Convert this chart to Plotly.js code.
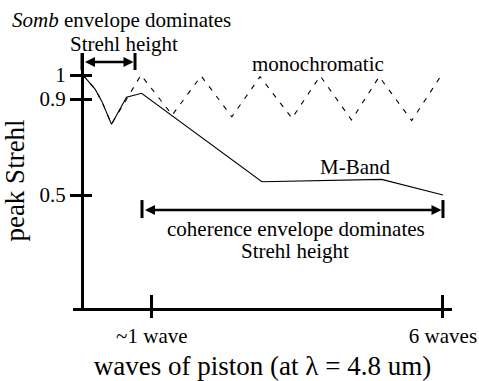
<!DOCTYPE html>
<html>
<head>
<meta charset="utf-8">
<script src="https://cdn.plot.ly/plotly-3.0.1.min.js"></script>
<style>
  html, body { margin: 0; padding: 0; background: #fff; }
  #chart { width: 479px; height: 381px; }
</style>
</head>
<body>
<div id="chart"></div>
<script>
// Peak Strehl versus piston error (in waves at 4.8 um)
const mBandWaves   = [0, 0.05, 0.22, 0.33, 0.49, 0.74, 0.99, 2.99, 4.98, 6.0];
const mBandStrehl  = [1.0, 0.99, 0.94, 0.89, 0.795, 0.907, 0.924, 0.555, 0.565, 0.50];

const monoWaves    = [0, 0.05, 0.22, 0.33, 0.49, 0.98, 1.5, 1.98, 2.49, 2.96, 3.49, 3.96, 4.48, 4.94, 5.48, 5.95];
const monoStrehl   = [1.0, 0.99, 0.94, 0.89, 0.795, 1.0, 0.833, 0.996, 0.826, 0.993, 0.82, 0.996, 0.8125, 0.993, 0.81, 0.99];

const waveTickVals   = [1.16, 6];
const waveTickText   = ['~1 wave', '6 waves'];
const strehlTickVals = [0.5, 0.9, 1];
const strehlTickText = ['0.5', '0.9', '1'];

const FONT = 'Liberation Serif, Times New Roman, serif';
const X_RANGE = [-0.15, 6.15];
const Y_RANGE = [0.0292, 1.0917];
const Y_AXIS_POS = 9 / 379;   // vertical axis sits at zero piston

const traces = [
  {
    x: mBandWaves, y: mBandStrehl, type: 'scatter', mode: 'lines',
    line: { color: '#000', width: 1.1 }, xaxis: 'x', yaxis: 'y',
    hoverinfo: 'skip', showlegend: false
  },
  {
    x: monoWaves, y: monoStrehl, type: 'scatter', mode: 'lines',
    line: { color: '#000', width: 1.1, dash: '5px,7px' }, xaxis: 'x2', yaxis: 'y2',
    hoverinfo: 'skip', showlegend: false
  }
];

const baseX = {
  range: X_RANGE, autorange: false, showgrid: false, zeroline: false,
  tickvals: waveTickVals, ticktext: waveTickText, tickwidth: 3, tickcolor: '#000'
};
const baseY = {
  range: Y_RANGE, autorange: false, showgrid: false, zeroline: false,
  tickvals: strehlTickVals, ticktext: strehlTickText, tickwidth: 3, tickcolor: '#000',
  anchor: 'free', position: Y_AXIS_POS
};

// bracket helper: end bars as shapes, double-headed arrow as annotation
function bracket(x0, x1, yMid, yTop, yBot) {
  return {
    shapes: [
      { type: 'line', xref: 'x', yref: 'y', x0: x0, x1: x0, y0: yBot, y1: yTop, line: { color: '#000', width: 3 } },
      { type: 'line', xref: 'x', yref: 'y', x0: x1, x1: x1, y0: yBot, y1: yTop, line: { color: '#000', width: 3 } }
    ],
    arrow: {
      xref: 'x', yref: 'y', axref: 'x', ayref: 'y',
      x: x1 - 0.025, y: yMid, ax: x0 + 0.025, ay: yMid, text: '',
      showarrow: true, arrowside: 'end+start', arrowhead: 2, startarrowhead: 2,
      arrowsize: 0.8, startarrowsize: 0.8, arrowwidth: 2.5, arrowcolor: '#000',
      standoff: 0, startstandoff: 0
    }
  };
}
const somb = bracket(0, 0.881, 1.054, 1.0917, 1.021);
const coh  = bracket(0.997, 6.0, 0.4375, 0.479, 0.404);

function label(text, x, y, yref) {
  return { text: text, x: x, y: y, xref: 'x', yref: yref || 'y', showarrow: false,
           xanchor: 'center', yanchor: 'middle', font: { family: FONT, size: 21, color: '#000' } };
}

const layout = {
  width: 479, height: 381,
  margin: { l: 73, r: 27, t: 53, b: 73, pad: 0 },
  paper_bgcolor: '#fff', plot_bgcolor: '#fff',
  font: { family: FONT, size: 21, color: '#000' },
  showlegend: false,
  xaxis: Object.assign({}, baseX, {
    anchor: 'y', showline: true, linewidth: 3, linecolor: '#000',
    ticks: 'outside', ticklen: 7,
    tickfont: { family: FONT, size: 21, color: '#000' },
    title: { text: 'waves of piston (at \u03bb = 4.8 um)', font: { family: FONT, size: 27, color: '#000' }, standoff: 10 }
  }),
  yaxis: Object.assign({}, baseY, {
    showline: true, linewidth: 3, linecolor: '#000',
    ticks: 'outside', ticklen: 11,
    tickfont: { family: FONT, size: 21, color: '#000' },
    title: { text: 'peak Strehl', font: { family: FONT, size: 27, color: '#000' }, standoff: 10 }
  }),
  // overlay axes carry the inner half of each crossing tick mark
  xaxis2: Object.assign({}, baseX, {
    overlaying: 'x', anchor: 'y2', side: 'bottom', showline: false,
    ticks: 'inside', ticklen: 13, showticklabels: false
  }),
  yaxis2: Object.assign({}, baseY, {
    overlaying: 'y', showline: false,
    ticks: 'inside', ticklen: 9, showticklabels: false
  }),
  shapes: somb.shapes.concat(coh.shapes),
  annotations: [
    somb.arrow, coh.arrow,
    label('<i>Somb</i> envelope dominates', 0.648, 1.129, 'paper'),
    label('Strehl height', 0.69, 1.035, 'paper'),
    label('monochromatic', 3.92, 1.044),
    label('M-Band', 4.537, 0.617),
    label('coherence envelope dominates', 3.565, 0.3604),
    label('Strehl height', 3.54, 0.2667)
  ]
};

Plotly.newPlot('chart', traces, layout, { staticPlot: true, displayModeBar: false });
</script>
</body>
</html>
